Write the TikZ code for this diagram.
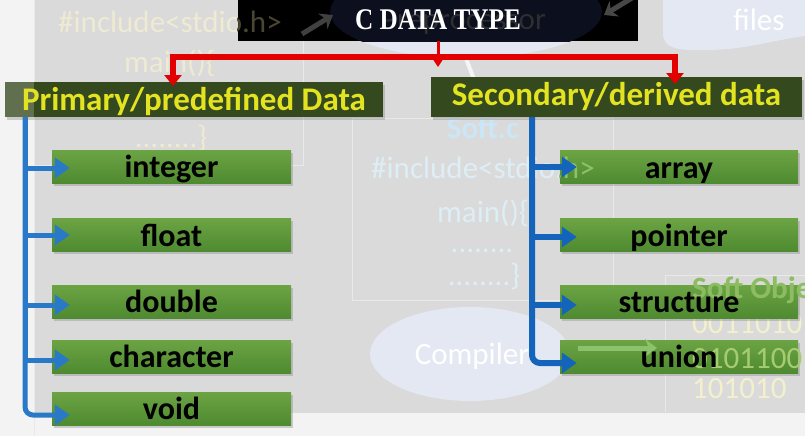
\documentclass[tikz,border=0pt]{standalone}
\usepackage{fontspec}
\setmainfont{Carlito}
\newfontfamily\titlefont[FakeStretch=0.84]{Liberation Serif}
\usetikzlibrary{arrows.meta,shadows,calc}
\definecolor{bggray}{HTML}{DADADA}
\definecolor{paper}{HTML}{F3F3F3}
\definecolor{pline}{HTML}{E9E9E9}
\definecolor{ellcol}{HTML}{E3E8F2}
\definecolor{navy}{HTML}{0B0F1E}
\definecolor{codeyellow}{HTML}{EFEAD2}
\definecolor{dimyellow}{HTML}{4A4632}
\definecolor{codeblue}{HTML}{DDEEF6}
\definecolor{softblue}{HTML}{CBE6F7}
\definecolor{softgreen}{HTML}{8DBD62}
\definecolor{binyellow}{HTML}{F4F0CC}
\definecolor{bingreen}{HTML}{A6CC72}
\definecolor{ghostgreen}{HTML}{8CC26C}
\definecolor{gtop}{HTML}{6CA444}
\definecolor{gbot}{HTML}{4E8A30}
\definecolor{hgreen}{HTML}{34491D}
\definecolor{hyellow}{HTML}{E3E322}
\definecolor{redc}{HTML}{E20000}
\definecolor{lbl}{HTML}{2A78C8}
\definecolor{dbl}{HTML}{1464BC}
\tikzset{
  bgtext/.style={inner sep=0pt, anchor=base, font=\fontsize{31}{31}\selectfont},
  gtext/.style={inner sep=0pt, text height=26pt, text depth=4pt, text=black,
    font=\bfseries\fontsize{32}{32}\selectfont},
  gbox/.style={gtext, top color=gtop, bottom color=gbot, minimum width=239pt, minimum height=33pt,
    drop shadow={shadow xshift=2pt, shadow yshift=-2.5pt, opacity=0.35}},
  hbox/.style={fill=hgreen, text=hyellow, inner sep=0pt, text height=25pt, text depth=4pt,
    font=\bfseries\fontsize{33}{33}\selectfont,
    drop shadow={shadow xshift=2pt, shadow yshift=-2.5pt, opacity=0.35}},
  titlebox/.style={fill=black, minimum width=400pt, minimum height=41pt, inner sep=0pt},
  titletxt/.style={text=white, inner sep=0pt, text height=22pt, text depth=3pt,
    font=\titlefont\bfseries\fontsize{30}{30}\selectfont},
  redline/.style={draw=redc, line width=6.5pt},
  redarrow/.style={redline, -{Triangle[width=17pt,length=11pt]}},
  lblue/.style={draw=lbl, line width=5pt, -{Triangle[width=20pt,length=15pt]}},
  dblue/.style={draw=dbl, line width=6pt, -{Triangle[width=20pt,length=15pt]}},
  ghostarrow/.style={line width=5pt, -{Stealth[width=18pt,length=12pt,inset=4pt]}},
}
\begin{document}
\begin{tikzpicture}[x=1pt,y=-1pt]
\useasboundingbox (0,0) rectangle (805,436);
% background slide
\fill[paper] (0,0) rectangle (805,436);
\fill[bggray] (35,0) rectangle (805,413);
\draw[pline, line width=1pt] (34,0) -- (34,436);
\draw[pline, line width=1pt] (35,165) -- (303,165) -- (303,0);
\draw[pline, line width=1pt] (352,118) rectangle (613,300);
\draw[pline, line width=1pt] (665,412) -- (665,275) -- (805,275);
% ellipses
\fill[ellcol] (466,12) ellipse [x radius=136, y radius=46];
\fill[ellcol] (663,0) -- (663,34) to[out=-90,in=180] (705,50) to[out=0,in=188] (805,36) -- (805,0) -- cycle;
\fill[ellcol] (470,354) ellipse [x radius=100, y radius=47];
% ghost texts
\node[bgtext, text=codeyellow] (c1) at (170,33) {\#include<stdio.h>};
\node[bgtext, text=codeyellow] (c2) at (170,72) {main()\{};
\node[bgtext, text=codeyellow] (c3) at (171,147) {........\}};
\node[bgtext, text=softblue, font=\bfseries\fontsize{31}{31}\selectfont] (s0) at (483,138) {Soft.c};
\node[bgtext, text=codeblue] (s1) at (483,178) {\#include<stdio.h>};
\node[bgtext, text=codeblue] (s2) at (483,222) {main()\{};
\node[bgtext, text=codeblue] (s3) at (482,252) {........};
\node[bgtext, text=codeblue] (s4) at (484,285) {........\}};
\node[bgtext, text=white] (comp) at (472,364) {Compiler};
\node[bgtext, text=white] (files) at (759,31) {files};
\node[bgtext, text=binyellow, anchor=base west] (b1) at (692,333) {0011010};
\node[bgtext, text=binyellow, anchor=base west] (b3) at (692,398) {101010};
\coordinate (wa1) at (465,56);
\coordinate (wa2) at (482,100);
\draw[draw=white!92!gray, line width=4pt] (wa1) -- (wa2);
% title box with ghost content
\node[titlebox] (title) at (438,20.5) {};
\begin{scope}
  \clip (title.south west) rectangle (title.north east);
  \fill[navy] (466,12) ellipse [x radius=136, y radius=46];
  \node[bgtext, text=dimyellow] (c1dim) at (170,33) {\#include<stdio.h>};
\end{scope}
\node[bgtext, text=black!80!ellcol, anchor=base east] (pre) at (546,30) {Preprocessor};
\coordinate (ga1) at (302,34);
\coordinate (ga2) at (333,15);
\draw[ghostarrow, draw=black!75!white] (ga1) -- (ga2);
\coordinate (gb1) at (632,-2);
\coordinate (gb2) at (604,15);
\draw[ghostarrow, draw=black!72!white] (gb1) -- (gb2);
\node[titletxt] (ttext) at (title.center) {C DATA TYPE};
% headings
\node[hbox, minimum width=378pt, minimum height=35pt,
  path picture={\fill[white, opacity=0.22] (path picture bounding box.south west) rectangle ([xshift=29pt]path picture bounding box.north west);}]
  (prim) at (194,99.5) {Primary/predefined Data};
\node[hbox, minimum width=371pt, minimum height=40pt, text height=24pt, text depth=8pt]
  (sec) at (616.5,97) {Secondary/derived data};
% red connectors
\coordinate (jl) at (173,57);
\coordinate (jr) at (675,57);
\coordinate (tipl) at (173,86);
\coordinate (tipr) at (675,84);
\coordinate (tipc) at (438,67);
\draw[redarrow] (jr) -- (jl) -- (tipl);
\draw[redarrow] (jl) -- (jr) -- (tipr);
\draw[draw=redc, line width=3pt, -{Triangle[width=10pt,length=8pt]}] (title.south) -- (tipc);
% green boxes
\node[gbox] (int) at (171.5,166.5) {integer};
\node[gbox] (flt) at (171.5,235) {float};
\node[gbox] (dbl) at (171.5,301.5) {double};
\node[gbox] (chr) at (171.5,356.5) {character};
\node[gbox] (vd)  at (171.5,408.5) {void};
\node[gbox, minimum width=238pt] (arr) at (679,167) {array};
\node[gbox, minimum width=238pt] (ptr) at (679,235) {pointer};
\node[gbox, minimum width=238pt] (str) at (679,301.5) {};
\node[gbox, minimum width=238pt] (uni) at (679,356.5) {};
% ghost content seen through right boxes
\begin{scope}
  \clip (arr.south west) rectangle (arr.north east);
  \node[bgtext, text=ghostgreen] (s1g) at (483,178) {\#include<stdio.h>};
\end{scope}
\node[bgtext, text=softgreen, anchor=base west, font=\bfseries\fontsize{31}{31}\selectfont] (so) at (692,298) {Soft Object};
\node[bgtext, text=bingreen, anchor=base west] (b2) at (692,368) {0101100};
\coordinate (gg1) at (578,348);
\coordinate (gg2) at (657,348);
\draw[ghostarrow, draw=ghostgreen] (gg1) -- (gg2);
\node[gtext] (strt) at (str.center) {structure};
\node[gtext] (unit) at (uni.center) {union};
% blue connectors
\coordinate (ls) at (25,117);
\draw[lblue] (ls) |- ([xshift=18pt,yshift=-1.5pt]int.west);
\draw[lblue] (ls) |- ([xshift=18pt]flt.west);
\draw[lblue] (ls) |- ([xshift=18pt,yshift=-3.5pt]dbl.west);
\draw[lblue] (ls) |- ([xshift=18pt,yshift=-3.5pt]chr.west);
\draw[lblue, rounded corners=8pt] (ls) |- ([xshift=18pt,yshift=-6.5pt]vd.west);
\coordinate (rs) at (532,117);
\draw[dblue] (rs) |- ([xshift=17pt]arr.west);
\draw[dblue] (rs) |- ([xshift=17pt,yshift=-2pt]ptr.west);
\draw[dblue] (rs) |- ([xshift=17pt,yshift=-3.5pt]str.west);
\draw[dblue, rounded corners=8pt] (rs) |- ([xshift=17pt,yshift=-6.5pt]uni.west);
\end{tikzpicture}
\end{document}
